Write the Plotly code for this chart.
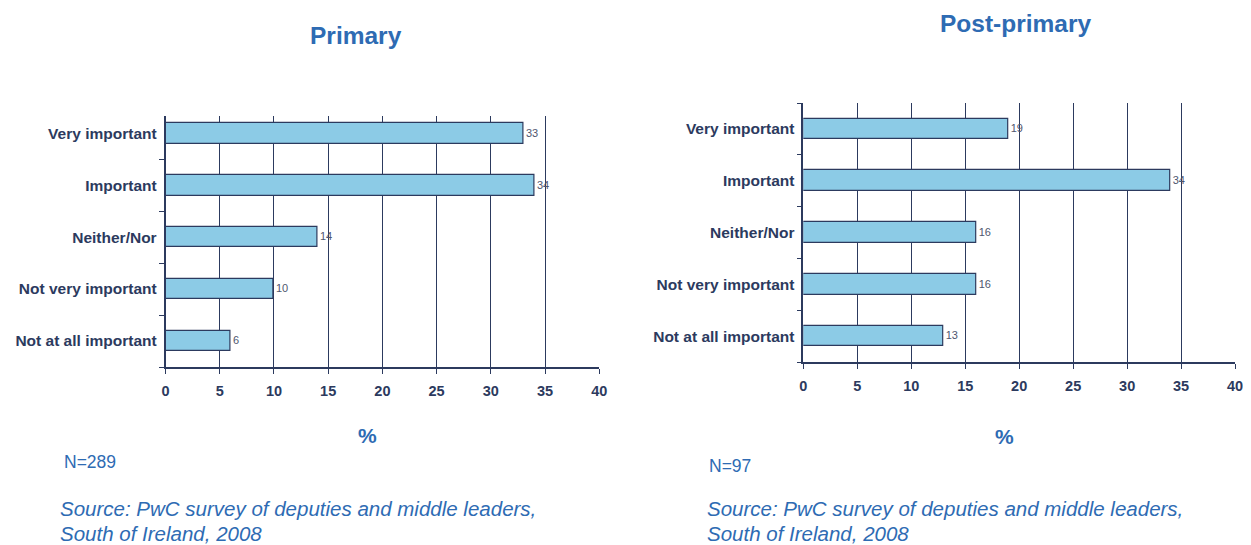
import plotly.graph_objects as go

categories = ["Very important", "Important", "Neither/Nor", "Not very important", "Not at all important"]
primary_values = [33, 34, 14, 10, 6]
post_primary_values = [19, 34, 16, 16, 13]
x_ticks = [0, 5, 10, 15, 20, 25, 30, 35, 40]

# page body has an 8px margin, so the figure starts at (8, 8) in the window
OFF = 8
W, H = 1243, 537
NAVY = "#2c3a5e"
BLUE = "#2e6bb3"
BAR = "#8ccbe6"


def px(x):
    return (x - OFF) / W


def py(y):
    return 1 - (y - OFF) / H


fig = go.Figure()

for i, vals in enumerate([primary_values, post_primary_values]):
    sfx = "" if i == 0 else "2"
    fig.add_trace(go.Bar(
        x=vals, y=categories, orientation="h",
        xaxis="x" + sfx, yaxis="y" + sfx,
        width=0.4,
        marker=dict(color=BAR, line=dict(color=NAVY, width=1.2)),
        text=[str(v) for v in vals], textposition="outside",
        textfont=dict(family="Liberation Sans", size=11, color="#4f566e"),
        cliponaxis=False, showlegend=False,
    ))

xaxis_common = dict(
    range=[0, 40], tickvals=x_ticks, showgrid=True, gridcolor=NAVY, gridwidth=1,
    showline=True, linecolor=NAVY, linewidth=1.5, ticks="outside", ticklen=5,
    tickcolor=NAVY, zeroline=False, ticklabelstandoff=5,
    tickfont=dict(family="Liberation Sans", size=14.5, color=NAVY, weight="bold"),
)
yaxis_common = dict(
    categoryorder="array", categoryarray=list(reversed(categories)),
    showline=True, linecolor=NAVY, linewidth=1.5, ticks="outside", ticklen=5,
    tickcolor=NAVY, tickson="boundaries", showgrid=False, ticklabelstandoff=4,
    tickfont=dict(family="Liberation Sans", size=15.5, color=NAVY, weight="bold"),
)

fig.update_layout(
    width=W, height=H, margin=dict(l=0, r=0, t=0, b=0),
    paper_bgcolor="white", plot_bgcolor="white",
    bargap=0,
    xaxis=dict(xaxis_common, domain=[px(163), px(601)], anchor="y"),
    yaxis=dict(yaxis_common, domain=[py(367), py(116)], range=[-0.5, 4.33], anchor="x"),
    xaxis2=dict(xaxis_common, domain=[px(807), px(1243)], anchor="y2"),
    yaxis2=dict(yaxis_common, domain=[py(362), py(103)], range=[-0.5, 4.5], anchor="x2"),
)

notes = [
    ("Primary", 355, 35, 24.5, "bold", "normal", "center"),
    ("Post-primary", 1022, 24, 24.5, "bold", "normal", "center"),
    ("%", 367, 435, 21, "bold", "normal", "center"),
    ("%", 1010, 436, 21, "bold", "normal", "center"),
    ("N=289", 58, 462, 17.5, "normal", "normal", "left"),
    ("N=97", 710, 466, 17.5, "normal", "normal", "left"),
    ("Source: PwC survey of deputies and middle leaders,", 54, 508, 20.5, "normal", "italic", "left"),
    ("South of Ireland, 2008", 54, 533, 20.5, "normal", "italic", "left"),
    ("Source: PwC survey of deputies and middle leaders,", 708, 508, 20.5, "normal", "italic", "left"),
    ("South of Ireland, 2008", 708, 533, 20.5, "normal", "italic", "left"),
]
for txt, x, y, size, weight, style, anchor in notes:
    fig.add_annotation(
        text=txt, x=px(x), y=py(y), xref="paper", yref="paper",
        xanchor=anchor, yanchor="middle", showarrow=False,
        font=dict(family="Liberation Sans", size=size, color=BLUE, weight=weight, style=style),
    )

fig.write_html("out.html", config={"displayModeBar": False})
